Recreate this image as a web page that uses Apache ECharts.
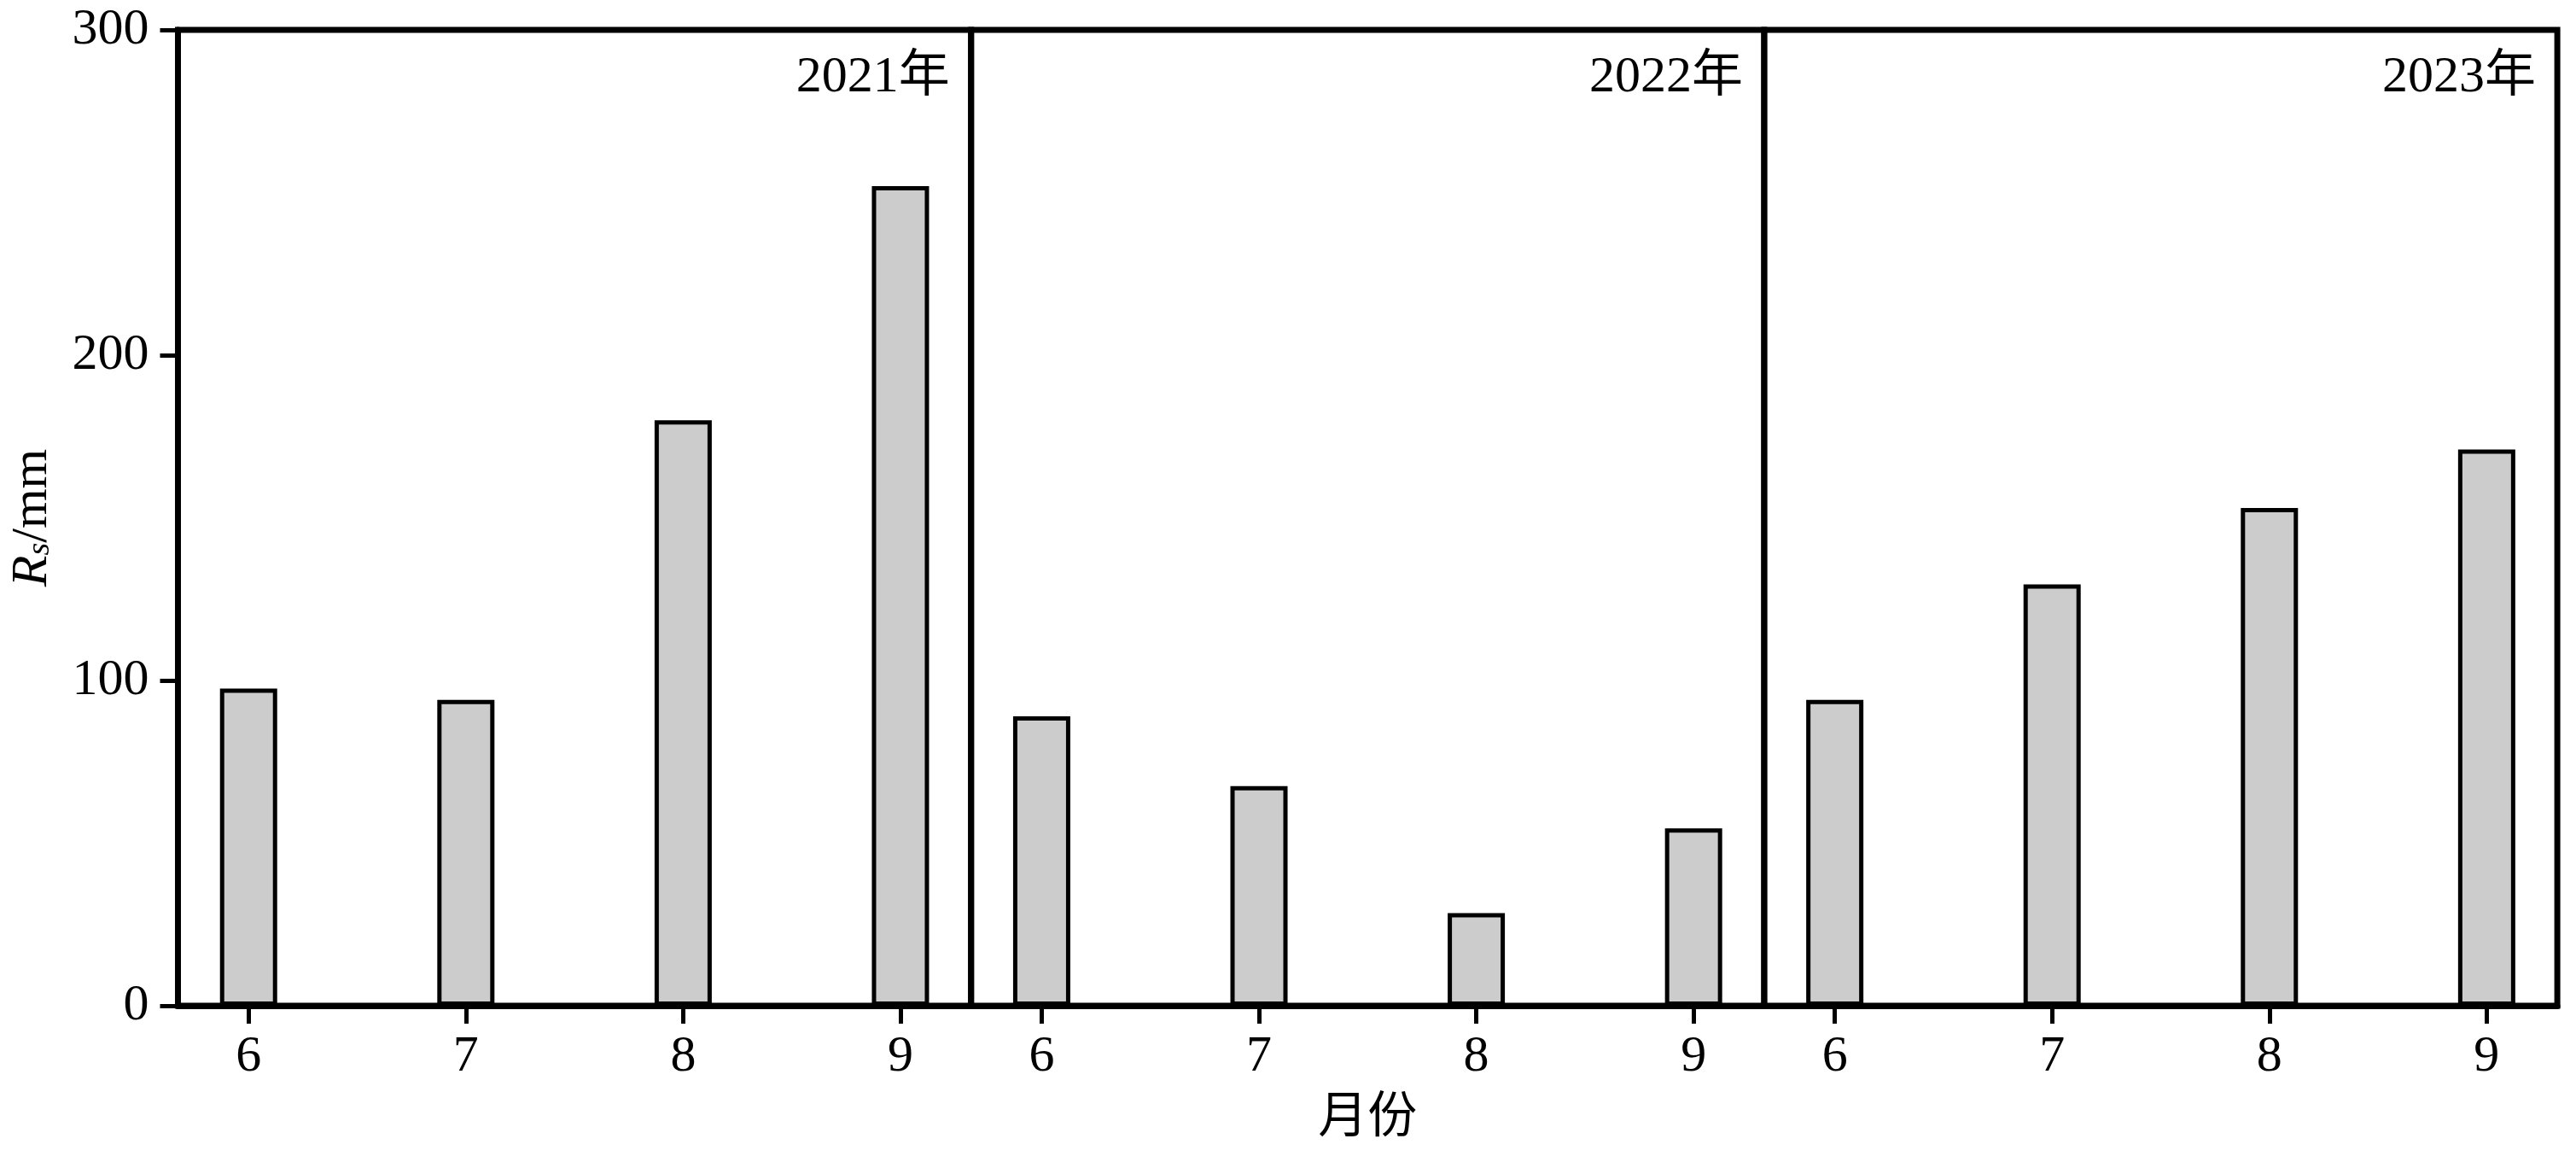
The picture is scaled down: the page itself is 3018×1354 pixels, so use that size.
<!DOCTYPE html>
<html>
<head>
<meta charset="utf-8">
<script src="https://cdn.jsdelivr.net/npm/echarts@6/dist/echarts.min.js"></script>
<style>
html,body{margin:0;padding:0;background:#fff;}
#chart{width:3018px;height:1354px;}
</style>
</head>
<body>
<div id="chart"></div>
<script>
// ---- data ----
const months = [6, 7, 8, 9];
const yearLabels = ['2021年', '2022年', '2023年'];
const rs2021 = [97.5, 94, 180, 252];
const rs2022 = [89, 67.5, 28.5, 54.5];
const rs2023 = [94, 129.5, 153, 171];
const yTicks = [0, 100, 200, 300];
const xTitle = '月份';

// ---- layout ----
const FONT = '"Liberation Serif", "Times New Roman", "Noto Sans CJK SC", serif';
const CJKFONT = '"Liberation Serif", "Noto Sans CJK SC", serif';
const FS = 60;
const gLeft = 208.5, gTop = 35, gHeight = 1143, gWidth = 929.2;
const panels = [rs2021, rs2022, rs2023];

const grids = [], xAxes = [], yAxes = [], series = [], graphics = [];
panels.forEach((vals, i) => {
  grids.push({
    left: gLeft + i * gWidth, top: gTop, width: gWidth, height: gHeight,
    show: true, borderColor: '#000', borderWidth: 7, backgroundColor: 'transparent'
  });
  xAxes.push({
    type: 'value', gridIndex: i, min: 5.675, max: 9.325, z: 10,
    axisLine: { show: true, onZero: false, lineStyle: { color: '#000', width: 7 } },
    axisTick: { show: true, customValues: months, length: 21, lineStyle: { color: '#000', width: 5 } },
    axisLabel: { show: true, customValues: months, margin: 30, fontSize: FS, fontFamily: FONT, color: '#000' },
    splitLine: { show: false },
    name: i === 1 ? xTitle : '',
    nameLocation: 'middle', nameGap: 104,
    nameTextStyle: { fontSize: 58, fontFamily: CJKFONT, color: '#000' }
  });
  const y = {
    type: 'value', gridIndex: i, min: yTicks[0], max: yTicks[yTicks.length - 1], interval: 100,
    splitLine: { show: false }, z: 10
  };
  if (i === 0) {
    Object.assign(y, {
      axisLine: { show: true, lineStyle: { color: '#000', width: 7 } },
      axisTick: { show: true, length: 21, lineStyle: { color: '#000', width: 5 } },
      axisLabel: { show: true, margin: 34, fontSize: FS, fontFamily: FONT, color: '#000' },
      name: '{it|R}{sub|s}{n|/mm}',
      nameLocation: 'middle', nameRotate: 90, nameGap: 140,
      nameTextStyle: {
        color: '#000',
        rich: {
          it: { fontSize: FS, fontStyle: 'italic', fontFamily: FONT, color: '#000' },
          sub: { fontSize: 38, fontStyle: 'italic', fontFamily: FONT, color: '#000', padding: [18, 0, 0, 0] },
          n: { fontSize: FS, fontFamily: FONT, color: '#000' }
        }
      }
    });
  } else {
    Object.assign(y, {
      axisLine: { show: false }, axisTick: { show: false }, axisLabel: { show: false }
    });
  }
  yAxes.push(y);
  series.push({
    type: 'bar', xAxisIndex: i, yAxisIndex: i,
    data: months.map((m, j) => [m, vals[j]]),
    barWidth: 67,
    itemStyle: { color: '#cccccc', borderColor: '#000', borderWidth: 5 },
    z: 2
  });
  graphics.push({
    type: 'text',
    x: gLeft + (i + 1) * gWidth - 25, y: 61,
    style: {
      text: yearLabels[i], fontSize: FS, fontFamily: CJKFONT, fill: '#000',
      align: 'right', verticalAlign: 'top', textAlign: 'right', textVerticalAlign: 'top'
    },
    z: 20
  });
});

const chart = echarts.init(document.getElementById('chart'), null, { renderer: 'canvas' });
chart.setOption({
  animation: false,
  backgroundColor: '#fff',
  grid: grids,
  xAxis: xAxes,
  yAxis: yAxes,
  series: series,
  graphic: graphics
});
</script>
</body>
</html>
